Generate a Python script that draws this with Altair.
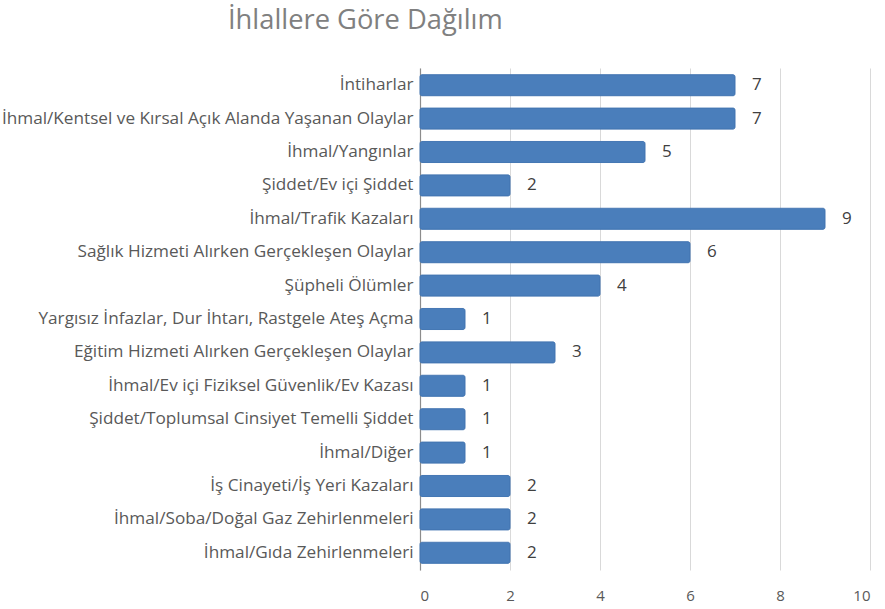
import altair as alt
import pandas as pd

categories = [
    "İntiharlar",
    "İhmal/Kentsel ve Kırsal Açık Alanda Yaşanan Olaylar",
    "İhmal/Yangınlar",
    "Şiddet/Ev içi Şiddet",
    "İhmal/Trafik Kazaları",
    "Sağlık Hizmeti Alırken Gerçekleşen Olaylar",
    "Şüpheli Ölümler",
    "Yargısız İnfazlar, Dur İhtarı, Rastgele Ateş Açma",
    "Eğitim Hizmeti Alırken Gerçekleşen Olaylar",
    "İhmal/Ev içi Fiziksel Güvenlik/Ev Kazası",
    "Şiddet/Toplumsal Cinsiyet Temelli Şiddet",
    "İhmal/Diğer",
    "İş Cinayeti/İş Yeri Kazaları",
    "İhmal/Soba/Doğal Gaz Zehirlenmeleri",
    "İhmal/Gıda Zehirlenmeleri",
]
values = [7, 7, 5, 2, 9, 6, 4, 1, 3, 1, 1, 1, 2, 2, 2]
x_ticks = [0, 2, 4, 6, 8, 10]

df = pd.DataFrame({"cat": categories, "val": values})

FONT = "Open Sans"

y_enc = alt.Y(
    "cat:N",
    sort=categories,
    title=None,
    scale=alt.Scale(paddingInner=0.37, paddingOuter=0.2),
    axis=alt.Axis(
        labelFont=FONT,
        labelFontSize=17.2,
        labelColor="#595959",
        labelLimit=500,
        labelPadding=7,
        ticks=False,
        domain=True,
        domainColor="#8c8c8c",
        domainWidth=1.2,
        grid=False,
    ),
)

x_enc = alt.X(
    "val:Q",
    title=None,
    scale=alt.Scale(domain=[0, 10]),
    axis=alt.Axis(
        values=x_ticks,
        labelFont=FONT,
        labelFontSize=15,
        labelColor="#595959",
        labelPadding=18,
        ticks=False,
        domain=False,
        grid=True,
        gridColor="#d9d9d9",
        gridWidth=1,
    ),
)

bars = alt.Chart(df).mark_bar(
    color="#4a7ebb", stroke="#4577b3", strokeWidth=1, cornerRadius=2
).encode(x=x_enc, y=y_enc)

labels = alt.Chart(df).mark_text(
    align="left", dx=17, font=FONT, fontSize=17, color="#404040"
).encode(x="val:Q", y=alt.Y("cat:N", sort=categories), text="val:Q")

chart = (
    (bars + labels)
    .properties(
        width=450,
        height=502,
        autosize=alt.AutoSizeParams(type="none"),
        padding={"left": 420, "top": 68, "right": 15, "bottom": 39},
        title=alt.TitleParams(
            "İhlallere Göre Dağılım",
            anchor="start",
            frame="group",
            dx=-192,
            offset=34,
            font=FONT,
            fontSize=27.3,
            fontWeight="normal",
            color="#808080",
        ),
    )
    .configure_view(stroke=None)
)

chart.save("out.html", embed_options={"renderer": "svg", "actions": False})
